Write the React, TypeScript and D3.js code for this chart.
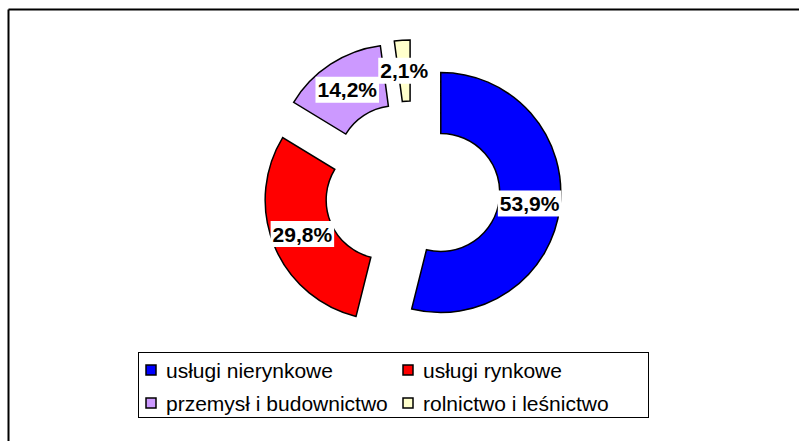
import React from "react";
import * as d3 from "d3";

const categories = ["usługi nierynkowe", "usługi rynkowe", "przemysł i budownictwo", "rolnictwo i leśnictwo"];
const values = [53.9, 29.8, 14.2, 2.1];
const labels = ["53,9%", "29,8%", "14,2%", "2,1%"];
const colors = ["#0000FF", "#FF0000", "#CC99FF", "#FFFFCC"];

const W = 799;
const H = 441;
const CX = 412;
const CY = 189;
const R_OUT = 120;
const R_IN = 59;
const EXPLODE = 29;
const FONT = "'Liberation Sans', Arial, sans-serif";

export default function App() {
  const pie = d3.pie<number>().sort(null).value((d) => d)(values);
  const arc = d3.arc<d3.PieArcDatum<number>>().innerRadius(R_IN).outerRadius(R_OUT);
  const labelArc = d3.arc<d3.PieArcDatum<number>>().innerRadius((R_IN + R_OUT) / 2).outerRadius((R_IN + R_OUT) / 2);

  const slices = pie.map((p, i) => {
    const mid = (p.startAngle + p.endAngle) / 2;
    const dx = EXPLODE * Math.sin(mid);
    const dy = -EXPLODE * Math.cos(mid);
    const [lx, ly] = labelArc.centroid(p);
    return { p, i, dx, dy, lx: lx + dx, ly: ly + dy };
  });

  const legendX = d3.scaleOrdinal<number, number>().domain([0, 1]).range([146, 403]);
  const legendY = d3.scaleOrdinal<number, number>().domain([0, 1]).range([370, 403]);

  const labelFont = 21;
  const labelWidth = (t: string) => {
    let w = 0;
    for (const c of t) w += c === "," ? 0.278 : c === "%" ? 0.889 : 0.556;
    return w * labelFont;
  };

  return (
    <svg width={W} height={H} style={{ position: "absolute", left: 0, top: 0, background: "#fff" }}>
      <line x1={8.5} y1={9.5} x2={W} y2={9.5} stroke="#000" strokeWidth={2} />
      <line x1={8.5} y1={9.5} x2={8.5} y2={H} stroke="#000" strokeWidth={2} />
      <g transform={`translate(${CX},${CY})`}>
        {slices.map((s) => (
          <path
            key={s.i}
            d={arc(s.p) || ""}
            transform={`translate(${s.dx},${s.dy})`}
            fill={colors[s.i]}
            stroke="#000"
            strokeWidth={1.5}
            strokeLinejoin="miter"
          />
        ))}
        {slices.map((s) => {
          const w = labelWidth(labels[s.i]) + 4;
          return (
            <g key={"l" + s.i} transform={`translate(${s.lx},${s.ly})`}>
              <rect x={-w / 2} y={-13} width={w} height={26} fill="#fff" />
              <text
                x={0}
                y={7.5}
                textAnchor="middle"
                fontFamily={FONT}
                fontWeight="bold"
                fontSize={labelFont}
                fill="#000"
              >
                {labels[s.i]}
              </text>
            </g>
          );
        })}
      </g>
      <rect x={138.5} y={352.5} width={510} height={65} fill="#fff" stroke="#000" strokeWidth={1} />
      {categories.map((c, i) => {
        const x = legendX(i % 2);
        const y = legendY(Math.floor(i / 2));
        return (
          <g key={c}>
            <rect x={x} y={y - 5} width={10} height={10} fill={colors[i]} stroke="#000" strokeWidth={1.5} />
            <text x={x + 20} y={y + 7.5} fontFamily={FONT} fontSize={21} fill="#000">
              {c}
            </text>
          </g>
        );
      })}
    </svg>
  );
}
